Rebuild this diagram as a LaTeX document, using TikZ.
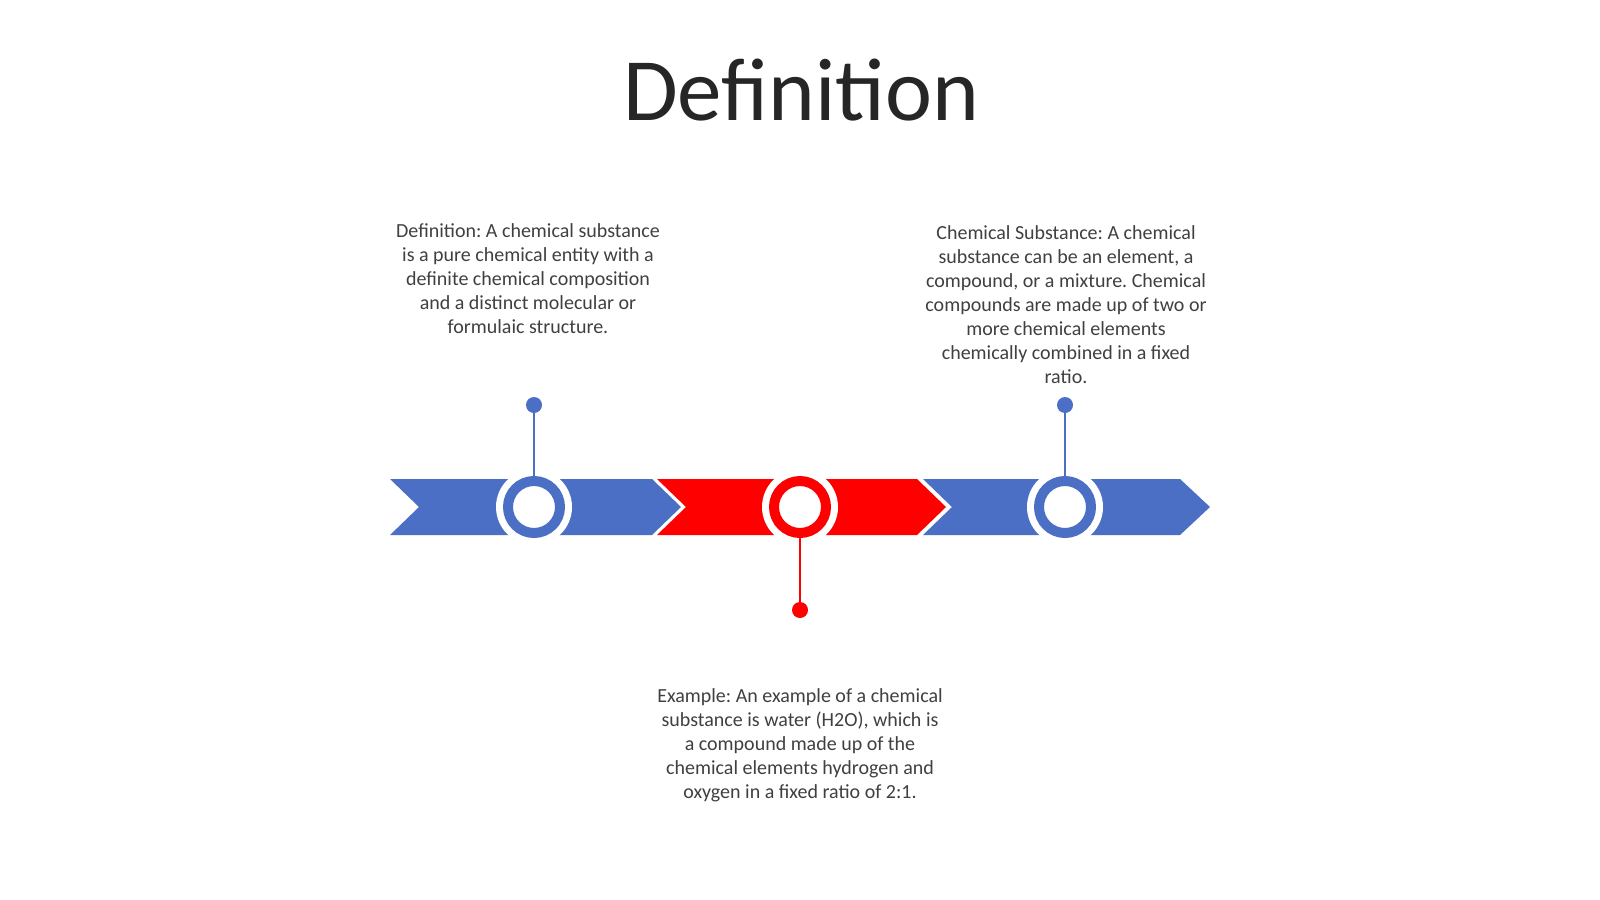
\documentclass[tikz,border=0pt]{standalone}
\usepackage{fontspec}
\setmainfont{Carlito}
\frenchspacing
\definecolor{tlblue}{HTML}{4A6FC4}
\definecolor{tlred}{HTML}{FF0000}
\definecolor{titlegray}{HTML}{262626}
\definecolor{bodygray}{HTML}{404040}
\tikzset{
  bodytext/.style={align=center, inner sep=0pt, text=bodygray, font=\fontsize{20}{24}\selectfont\frenchspacing},
  gapdisk/.style={circle, fill=white, minimum size=76pt, inner sep=0pt},
  ringnode/.style={circle, draw=#1, line width=10pt, fill=white, minimum size=52pt, inner sep=0pt},
  pindot/.style={circle, fill=#1, minimum size=16pt, inner sep=0pt},
  pinstem/.style={draw=#1, line width=2.5pt},
}
\begin{document}
\begin{tikzpicture}[x=1pt, y=-1pt]
\useasboundingbox (0,0) rectangle (1600,899);
\fill[white] (0,0) rectangle (1600,899);
% title
\node[anchor=base, inner sep=0pt, text=titlegray, font=\fontsize{89}{100}\selectfont] (title) at (801,120) {Definition};
% chevrons
\fill[tlblue] (390,479) -- (652,479) -- (681,507) -- (652,535) -- (390,535) -- (419,507) -- cycle;
\fill[tlred] (657,479) -- (917,479) -- (946,507) -- (917,535) -- (657,535) -- (686,507) -- cycle;
\fill[tlblue] (923,479) -- (1180,479) -- (1210,507) -- (1180,535) -- (923,535) -- (952,507) -- cycle;
% gaps around circles
\node[gapdisk] (g1) at (534,507) {};
\node[gapdisk] (g2) at (800,507) {};
\node[gapdisk] (g3) at (1065,507) {};
% rings
\node[ringnode=tlblue] (c1) at (534,507) {};
\node[ringnode=tlred] (c2) at (800,507) {};
\node[ringnode=tlblue] (c3) at (1065,507) {};
% pins
\node[pindot=tlblue] (d1) at (534,405) {};
\node[pindot=tlred] (d2) at (800,610) {};
\node[pindot=tlblue] (d3) at (1065,405) {};
\draw[pinstem=tlblue] (d1.center) -- (c1.north);
\draw[pinstem=tlred] (d2.center) -- (c2.south);
\draw[pinstem=tlblue] (d3.center) -- (c3.north);
% texts
\node[bodytext] (t1) at (528,279) {Definition: A chemical substance\\is a pure chemical entity with a\\definite chemical composition\\and a distinct molecular or\\formulaic structure.};
\node[bodytext] (t3) at (1066,305) {Chemical Substance: A chemical\\substance can be an element, a\\compound, or a mixture. Chemical\\compounds are made up of two or\\more chemical elements\\chemically combined in a fixed\\ratio.};
\node[bodytext] (t2) at (800,745) {Example: An example of a chemical\\substance is water (H2O), which is\\a compound made up of the\\chemical elements hydrogen and\\oxygen in a fixed ratio of 2:1.};
\end{tikzpicture}
\end{document}
